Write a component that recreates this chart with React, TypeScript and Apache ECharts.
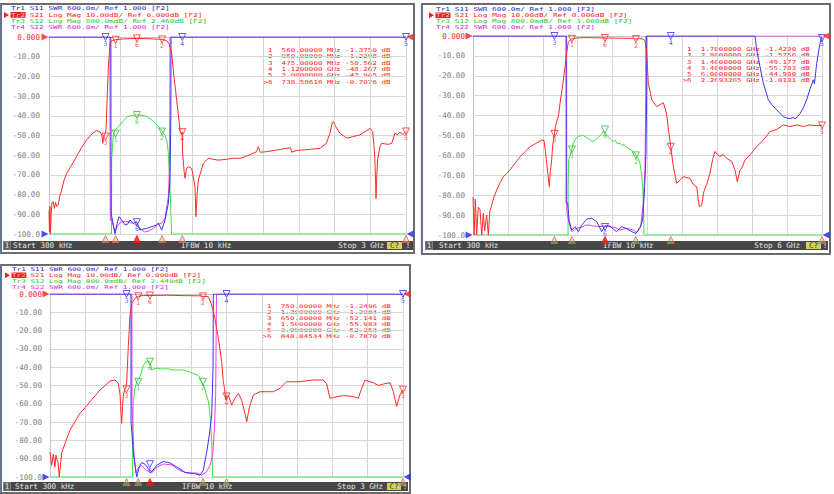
import { useEffect, useRef } from 'react'
import * as echarts from 'echarts'

const yTicks = [0, -10, -20, -30, -40, -50, -60, -70, -80, -90, -100]
const yTickLabels = ['0.000', '-10.00', '-20.00', '-30.00', '-40.00', '-50.00', '-60.00', '-70.00', '-80.00', '-90.00', '-100.0']
const markerNames = ['1', '2', '3', '4', '5', '6']

// all traces in units of the Tr2 scale (dB, 10 dB/div)

// ---- panel 1: 300 kHz .. 3 GHz (GHz)
const p1Header = [
  'Tr1 S11 SWR 600.0m/ Ref 1.000 [F2]',
  'Tr2 S21 Log Mag 10.00dB/ Ref 0.000dB [F2]',
  'Tr3 S12 Log Mag 800.0mdB/ Ref 2.460dB [F2]',
  'Tr4 S22 SWR 600.0m/ Ref 1.000 [F2]',
]
const p1Table = [
  '1  560.00000 MHz -1.3750 dB',
  '2  950.00000 MHz -1.2298 dB',
  '3  475.00000 MHz -50.562 dB',
  '4  1.1200000 GHz -48.267 dB',
  '5  3.0000000 GHz -47.945 dB',
  '>6  738.58616 MHz -0.7076 dB',
]
const p1Status = ['Start 300 kHz', 'IFBW 10 kHz', 'Stop 3 GHz']
const p1MarkFreq = [0.56, 0.95, 0.475, 1.12, 3.0, 0.73858616]
const p1S21Mark = [-1.375, -1.2298, -50.562, -48.267, -47.945, -0.7076]
const p1S11Mark = [-100, -98, 0, 0, 0, -94]
const p1S12Mark = [-49, -48, -100, -100, -100, -39.6]
const p1S21 = [
  [0.0003, -88], [0.004, -99], [0.008, -86], [0.012, -100], [0.018, -90], [0.025, -84], [0.036, -83.6],
  [0.045, -87], [0.055, -84], [0.065, -86], [0.078, -85.3], [0.09, -81], [0.106, -77.7], [0.125, -73],
  [0.148, -69.2], [0.19, -65], [0.232, -60.7], [0.275, -56], [0.316, -52.3], [0.36, -49.2], [0.4, -47.5],
  [0.428, -48], [0.445, -50], [0.452, -54], [0.458, -51.4], [0.465, -50], [0.475, -48.5], [0.479, -47],
  [0.488, -32], [0.499, -15], [0.507, -8.3], [0.513, -3.2], [0.53, -1.8], [0.56, -1.37], [0.62, -1.0],
  [0.7386, -0.71], [0.85, -0.9], [0.95, -1.23], [0.99, -1.9], [1.01, -3.5], [1.031, -8.3], [1.05, -20],
  [1.073, -32], [1.101, -47.2], [1.115, -49.7], [1.12, -48.3], [1.123, -59], [1.135, -68], [1.143, -71.7],
  [1.155, -67], [1.171, -65.8], [1.199, -66.7], [1.215, -72], [1.227, -76], [1.235, -91.2], [1.245, -80],
  [1.255, -72.6], [1.297, -64.1], [1.339, -61.6], [1.42, -62.5], [1.493, -62.1], [1.55, -61.5],
  [1.605, -61.6], [1.68, -60], [1.745, -58.2], [1.759, -55.7], [1.775, -58.5], [1.829, -58.2],
  [1.9, -57.5], [1.997, -56.5], [2.03, -56.3], [2.039, -58.5], [2.08, -57.6], [2.2, -57], [2.277, -56.5],
  [2.33, -54], [2.361, -48.9], [2.38, -43.5], [2.389, -43], [2.41, -45.5], [2.445, -48.9], [2.502, -51.4],
  [2.56, -50.5], [2.613, -49.7], [2.697, -46.4], [2.72, -48], [2.735, -58], [2.743, -70], [2.748, -82],
  [2.755, -70], [2.762, -62], [2.78, -56], [2.795, -54], [2.85, -54.5], [2.88, -54], [2.907, -48.9],
  [2.93, -49.5], [2.949, -48.3], [2.975, -49.5], [3.0, -47.9],
]
const p1S12 = [
  [0, -100], [0.525, -100], [0.527, -62], [0.54, -49.7], [0.555, -47.2], [0.575, -46], [0.597, -44.7],
  [0.625, -42.5], [0.653, -40.7], [0.69, -39.8], [0.737, -39.6], [0.78, -39.8], [0.821, -40.3],
  [0.85, -41.5], [0.877, -42.8], [0.905, -44.5], [0.93, -46.5], [0.947, -47.5], [0.975, -50],
  [0.99, -52.5], [1.003, -59], [1.017, -76], [1.03, -100], [3, -100],
]
const p1S11 = [
  [0, 0], [0.52, 0], [0.521, -60], [0.522, -89.5], [0.527, -89.5], [0.555, -100], [0.569, -95.4],
  [0.588, -91.2], [0.611, -92.9], [0.639, -95.4], [0.66, -95], [0.681, -92.9], [0.709, -94.5],
  [0.737, -93.8], [0.765, -98], [0.79, -97.5], [0.821, -97.2], [0.85, -96.5], [0.877, -96], [0.9, -95.5],
  [0.919, -94.5], [0.947, -98], [0.975, -92.9], [1.003, -84.5], [1.017, -72.6], [1.024, -40], [1.025, 0],
  [3, 0],
]
const p1S22 = [
  [0, 0], [0.512, 0], [0.513, -60], [0.515, -93], [0.527, -93], [0.555, -99], [0.57, -96.5], [0.6, -94],
  [0.64, -93.5], [0.681, -94], [0.72, -95], [0.765, -97], [0.8, -99], [0.84, -98.5], [0.88, -97],
  [0.919, -95], [0.947, -94.5], [0.975, -92], [1.003, -81], [1.012, -67.5], [1.016, -30], [1.017, 0], [3, 0],
]

// ---- panel 2: 300 kHz .. 6 GHz
const p2Header = [
  'Tr1 S11 SWR 600.0m/ Ref 1.000 [F2]',
  'Tr2 S21 Log Mag 10.00dB/ Ref 0.000dB [F2]',
  'Tr3 S12 Log Mag 800.0mdB/ Ref 3.000dB [F2]',
  'Tr4 S22 SWR 600.0m/ Ref 1.000 [F2]',
]
const p2Table = [
  '1  1.7000000 GHz -1.4200 dB',
  '2  2.8000000 GHz -1.5756 dB',
  '3  1.4000000 GHz -49.177 dB',
  '4  3.4000000 GHz -55.703 dB',
  '5  6.0000000 GHz -44.900 dB',
  '>6  2.2693265 GHz -1.0101 dB',
]
const p2Status = ['Start 300 kHz', 'IFBW 10 kHz', 'Stop 6 GHz']
const p2MarkFreq = [1.7, 2.8, 1.4, 3.4, 6.0, 2.2693265]
const p2S21Mark = [-1.42, -1.5756, -49.177, -55.703, -44.9, -1.0101]
const p2S11Mark = [-97, -99, 0, 0, -1, -96]
const p2S12Mark = [-57, -60, -100, -100, -100, -47]
const p2S21 = [
  [0.0003, -81], [0.02, -100], [0.04, -82], [0.063, -100], [0.09, -86], [0.12, -87], [0.15, -100],
  [0.178, -89], [0.2, -98], [0.235, -90], [0.264, -100], [0.29, -88], [0.321, -85], [0.36, -81],
  [0.407, -77.4], [0.46, -74], [0.522, -70.7], [0.58, -69], [0.636, -67.3], [0.72, -64], [0.808, -60.7],
  [0.9, -58], [0.98, -55.6], [1.08, -54], [1.181, -52.3], [1.221, -52.5], [1.245, -58], [1.267, -64],
  [1.29, -70], [1.312, -75.7], [1.33, -68], [1.353, -62.3], [1.37, -55], [1.4, -49.2], [1.42, -45],
  [1.439, -43], [1.47, -40], [1.496, -33.7], [1.54, -25], [1.582, -15.4], [1.611, -8.3], [1.639, -2.9],
  [1.7, -1.42], [1.783, -1.0], [1.95, -0.8], [2.269, -1.01], [2.5, -1.1], [2.756, -1.2], [2.8, -1.58],
  [2.86, -1.3], [2.928, -1.5], [2.965, -3], [2.986, -8.3], [3.014, -23.7], [3.072, -32], [3.158, -35.5],
  [3.215, -34.5], [3.272, -33.5], [3.31, -37], [3.33, -39.7], [3.36, -47], [3.4, -55.7], [3.444, -65.7],
  [3.501, -74], [3.559, -72.5], [3.616, -70.7], [3.731, -71.5], [3.788, -74.7], [3.845, -75.7],
  [3.891, -85.8], [3.931, -85], [3.97, -78], [4.017, -74.7], [4.074, -69], [4.12, -62], [4.16, -58],
  [4.2, -59.5], [4.246, -60.5], [4.3, -59.5], [4.361, -61.5], [4.447, -63], [4.504, -67.3], [4.544, -73.2],
  [4.59, -67.3], [4.62, -66.5], [4.676, -62.3], [4.762, -59.8], [4.877, -55.6], [4.991, -52.3],
  [5.106, -48], [5.22, -47], [5.335, -44.7], [5.45, -45.5], [5.565, -44.7], [5.68, -45.5], [5.794, -44.7],
  [5.9, -45], [6.0, -44.9],
]
const p2S12 = [
  [0, -100], [1.634, -100], [1.636, -75], [1.645, -62], [1.668, -60.3], [1.7, -57], [1.725, -53.9],
  [1.77, -51.5], [1.811, -50.4], [1.897, -50], [1.983, -51.5], [2.03, -52.5], [2.068, -53.1], [2.11, -52],
  [2.154, -51], [2.2, -49.5], [2.24, -48], [2.28, -49.5], [2.326, -50.5], [2.37, -52], [2.412, -53],
  [2.45, -52.5], [2.48, -54], [2.527, -53.9], [2.56, -55], [2.6, -54.5], [2.643, -56], [2.7, -57],
  [2.756, -58], [2.802, -59.8], [2.84, -61.5], [2.871, -64], [2.9, -70], [2.917, -75.7], [2.935, -90],
  [2.94, -100], [6, -100],
]
const p2S11 = [
  [0, 0], [1.6, 0], [1.602, -84], [1.628, -84], [1.651, -92.5], [1.697, -97.5], [1.754, -95.8],
  [1.811, -98.3], [1.868, -95.1], [1.954, -92.1], [2.04, -91.6], [2.126, -93.2], [2.212, -98.3],
  [2.269, -95.5], [2.355, -95.5], [2.41, -97], [2.47, -98.3], [2.556, -95.8], [2.642, -96.8],
  [2.728, -98.3], [2.802, -99.2], [2.871, -96.2], [2.917, -92.5], [2.951, -75.7], [2.974, -58.9],
  [2.985, -30], [2.986, 0], [4.848, 0], [4.877, -7], [4.934, -15.4], [4.991, -23.7], [5.077, -32],
  [5.15, -35], [5.221, -37], [5.28, -39], [5.335, -40.5], [5.39, -41.2], [5.45, -41.5], [5.5, -41],
  [5.536, -41.5], [5.58, -40.5], [5.622, -39], [5.68, -36], [5.737, -32], [5.79, -27], [5.851, -22],
  [5.87, -24], [5.909, -13.7], [5.94, -8], [5.966, -3.7], [5.995, -0.5],
]
const p2S22 = [
  [0, 0], [1.61, 0], [1.612, -88], [1.651, -94], [1.697, -98.3], [1.783, -96.6], [1.868, -96],
  [1.954, -94.9], [2.068, -95.4], [2.183, -95.8], [2.269, -95.4], [2.355, -95.8], [2.441, -96.2],
  [2.527, -97.5], [2.642, -96.6], [2.756, -97.5], [2.814, -98.8], [2.883, -95.8], [2.928, -84],
  [2.957, -67.3], [2.969, -30], [2.97, 0], [6, 0],
]

// ---- panel 3: 300 kHz .. 3 GHz
const p3Header = [
  'Tr1 S11 SWR 600.0m/ Ref 1.000 [F2]',
  'Tr2 S21 Log Mag 10.00dB/ Ref 0.000dB [F2]',
  'Tr3 S12 Log Mag 800.0mdB/ Ref 2.440dB [F2]',
  'Tr4 S22 SWR 600.0m/ Ref 1.000 [F2]',
]
const p3Table = [
  '1  750.00000 MHz -1.2496 dB',
  '2  1.3000000 GHz -1.2984 dB',
  '3  650.00000 MHz -52.141 dB',
  '4  1.5000000 GHz -55.983 dB',
  '5  3.0000000 GHz -52.253 dB',
  '>6  848.84534 MHz -0.7870 dB',
]
const p3Status = ['Start 300 kHz', 'IFBW 10 kHz', 'Stop 3 GHz']
const p3MarkFreq = [0.75, 1.3, 0.65, 1.5, 3.0, 0.84884534]
const p3S21Mark = [-1.2496, -1.2984, -52.141, -55.983, -52.253, -0.787]
const p3S11Mark = [-99, -98, 0, 0, 0, -93]
const p3S12Mark = [-48, -48, -100, -100, -100, -37]
const p3S21 = [
  [0.0003, -86.3], [0.014, -93.6], [0.028, -87.5], [0.042, -94.5], [0.05, -88], [0.057, -90], [0.068, -92],
  [0.079, -100], [0.099, -87], [0.127, -81.7], [0.17, -74.4], [0.21, -70], [0.255, -65.2], [0.3, -62],
  [0.34, -58.9], [0.425, -52.5], [0.51, -47.5], [0.552, -47], [0.581, -48.6], [0.595, -55], [0.601, -61.6],
  [0.609, -70.7], [0.616, -62], [0.623, -55.2], [0.636, -52], [0.646, -51], [0.652, -48], [0.666, -28],
  [0.68, -11.5], [0.694, -5.2], [0.722, -2.4], [0.75, -1.25], [0.793, -0.8], [0.849, -0.79], [0.992, -0.7],
  [1.15, -0.9], [1.275, -1.0], [1.3, -1.3], [1.346, -1.5], [1.374, -6], [1.402, -13.4], [1.431, -24.3],
  [1.459, -37], [1.473, -47.9], [1.479, -50], [1.496, -58.1], [1.5, -56], [1.516, -55.4], [1.53, -58],
  [1.544, -60.7], [1.572, -57], [1.601, -54.3], [1.629, -58.1], [1.657, -65.2], [1.672, -69.8],
  [1.694, -62], [1.728, -55.2], [1.785, -53.4], [1.85, -53.4], [1.898, -53.4], [1.955, -51.5],
  [2.011, -47.9], [2.06, -48], [2.125, -47.9], [2.238, -47], [2.323, -47], [2.351, -49], [2.38, -57],
  [2.408, -56.5], [2.493, -55.5], [2.578, -56], [2.62, -57], [2.649, -51.5], [2.677, -47], [2.748, -48.5],
  [2.79, -50], [2.833, -49.2], [2.89, -48.5], [2.918, -53.4], [2.946, -61.4], [2.975, -55], [3.0, -52.3],
]
const p3S12 = [
  [0, -100], [0.702, -100], [0.703, -75], [0.708, -58.9], [0.722, -51.5], [0.737, -48], [0.765, -45.2],
  [0.793, -39], [0.822, -36.5], [0.849, -37], [0.865, -41.5], [0.878, -41], [0.91, -40.5], [0.95, -41],
  [0.992, -40.8], [1.05, -41.5], [1.133, -41.5], [1.2, -43], [1.261, -44.5], [1.289, -48], [1.317, -52],
  [1.346, -58.9], [1.36, -66], [1.374, -80], [1.382, -100], [3, -100],
]
const p3S11 = [
  [0, 0], [0.688, 0], [0.689, -70], [0.708, -86.3], [0.722, -93.6], [0.737, -100], [0.759, -94.5],
  [0.779, -92.1], [0.807, -93], [0.836, -95.4], [0.864, -97.2], [0.907, -93.6], [0.963, -91.5],
  [1.02, -92.3], [1.077, -94.5], [1.148, -97.5], [1.218, -98], [1.275, -99], [1.303, -96.3],
  [1.332, -86.3], [1.354, -77.1], [1.374, -66.2], [1.386, -40], [1.388, 0], [3, 0],
]
const p3S22 = [
  [0, 0], [0.696, 0], [0.697, -60], [0.714, -88], [0.731, -97.8], [0.751, -94.7], [0.779, -93.8],
  [0.822, -96.5], [0.864, -97.8], [0.907, -94.7], [0.963, -92.9], [1.034, -93.4], [1.105, -96.5],
  [1.176, -98], [1.247, -97.8], [1.289, -98.9], [1.326, -97.5], [1.36, -93.8], [1.383, -88],
  [1.397, -73.6], [1.408, -55], [1.415, 0], [3, 0],
]

const MONO = '"DejaVu Sans Mono", "Liberation Mono", monospace'
const FS = 7.6
const EM = 0.602 // advance of the mono font, in em

const C_S11 = '#3434f0'
const C_S21 = '#ff2a2a'
const C_S12 = '#3fe03f'
const C_S22 = '#f03cf0'
const HEAD_COLORS = ['#2626d0', '#ff2020', '#28c828', '#e020e0']

const panels = [
  {
    header: p1Header, table: p1Table, status: p1Status,
    markFreq: p1MarkFreq, s21Mark: p1S21Mark, s11Mark: p1S11Mark, s12Mark: p1S12Mark,
    s21: p1S21, s12: p1S12, s11: p1S11, s22: p1S22,
    frame: [1, 4, 413, 249], grid: [49, 37, 357, 197],
    headX: 11, headY: 8.6, headStep: 6.3, headFs: 5.5, headCw: 4.68,
    tableX: 268, tableY: 50.5, tableStep: 6.3, tableFs: 5.5, tableCw: 4.55,
    bar: [3, 241, 410, 9], startX: 13, ifbwX: 181, stopR: 384, cBox: [387, 242, 15, 7], bangX: 408,
    xMax: 3, xInt: 0.3, labelMargin: 9,
  },
  {
    header: p2Header, table: p2Table, status: p2Status,
    markFreq: p2MarkFreq, s21Mark: p2S21Mark, s11Mark: p2S11Mark, s12Mark: p2S12Mark,
    s21: p2S21, s12: p2S12, s11: p2S11, s22: p2S22,
    frame: [422, 4, 408, 250], grid: [473, 36, 349, 199],
    headX: 436, headY: 9.2, headStep: 6.1, headFs: 5.4, headCw: 4.68,
    tableX: 687, tableY: 49.5, tableStep: 6.2, tableFs: 5.4, tableCw: 4.56,
    bar: [425, 241, 403, 9], startX: 439, ifbwX: 603, stopR: 800, cBox: [806, 242, 15, 7], bangX: 825,
    xMax: 6, xInt: 0.6, labelMargin: 8,
  },
  {
    header: p3Header, table: p3Table, status: p3Status,
    markFreq: p3MarkFreq, s21Mark: p3S21Mark, s11Mark: p3S11Mark, s12Mark: p3S12Mark,
    s21: p3S21, s12: p3S12, s11: p3S11, s22: p3S22,
    frame: [1, 265, 409, 228], grid: [50, 294, 353, 183],
    headX: 12, headY: 269.3, headStep: 5.9, headFs: 5.2, headCw: 4.62,
    tableX: 267, tableY: 306.5, tableStep: 5.9, tableFs: 5.2, tableCw: 4.6,
    bar: [3, 482, 405, 9], startX: 15, ifbwX: 182, stopR: 383, cBox: [387, 483, 14, 7], bangX: 405,
    xMax: 3, xInt: 0.3, labelMargin: 8,
  },
]

// monospace text squeezed in height, stretched to the screen's cell width
function monoText(x: number, y: number, text: string, fill: string, fs: number, cw: number) {
  return {
    type: 'text', x, y, scaleX: cw / (fs * EM), silent: true,
    style: { text, fill, font: `${fs}px ${MONO}`, align: 'left', verticalAlign: 'middle' },
  }
}

function plainText(x: number, y: number, text: string, fill: string, align: string) {
  return {
    type: 'text', x, y, silent: true,
    style: { text, fill, font: `${FS}px ${MONO}`, align, verticalAlign: 'middle' },
  }
}

function panelGraphics(p: any) {
  const els: any[] = []
  const [fx, fy, fw, fh] = p.frame
  els.push({ type: 'rect', shape: { x: fx, y: fy, width: fw, height: fh }, style: { fill: 'none', stroke: '#6c6c6c', lineWidth: 2 }, silent: true })
  els.push({ type: 'line', shape: { x1: fx - 0.5, y1: fy, x2: fx - 0.5, y2: fy + fh }, style: { stroke: '#5f7fc0', lineWidth: 1.5, lineDash: [1, 1] }, silent: true })
  // trace headers
  p.header.forEach((t: string, i: number) => {
    const y = p.headY + i * p.headStep
    if (i === 1) {
      els.push({ type: 'rect', shape: { x: p.headX - 0.5, y: y - 2.8, width: p.headCw * 3 + 1, height: 5.6 }, style: { fill: '#f02020' }, silent: true })
      els.push({ type: 'polygon', shape: { points: [[p.headX - 7, y - 3], [p.headX - 2, y], [p.headX - 7, y + 3]] }, style: { fill: '#f02020' }, silent: true })
      els.push(monoText(p.headX, y, t.slice(0, 3), '#ffc0c0', p.headFs, p.headCw))
      els.push(monoText(p.headX + 3 * p.headCw, y, t.slice(3), HEAD_COLORS[i], p.headFs, p.headCw))
    } else {
      els.push(monoText(p.headX, y, t, HEAD_COLORS[i], p.headFs, p.headCw))
    }
  })
  // marker readout
  p.table.forEach((t: string, i: number) => {
    els.push(monoText(p.tableX - (i === 5 ? p.tableCw : 0), p.tableY + i * p.tableStep, t, '#ff2020', p.tableFs, p.tableCw))
  })
  // status bar
  const [bx, by, bw, bh] = p.bar
  const cy = by + bh / 2
  els.push({ type: 'rect', shape: { x: bx, y: by, width: bw, height: bh }, style: { fill: '#474747' }, silent: true })
  els.push({ type: 'rect', shape: { x: bx + 0.5, y: by + 0.5, width: 7, height: bh - 1 }, style: { fill: '#5c5c5c', stroke: '#9a9a9a', lineWidth: 0.6 }, silent: true })
  els.push(plainText(bx + 4, cy, '1', '#e8e8e8', 'center'))
  els.push(plainText(p.startX, cy, p.status[0], '#e4e4e4', 'left'))
  els.push(plainText(p.ifbwX, cy, p.status[1], '#e4e4e4', 'left'))
  els.push(plainText(p.stopR, cy, p.status[2], '#e4e4e4', 'right'))
  const [cx0, cy0, cw0, ch0] = p.cBox
  els.push({ type: 'rect', shape: { x: cx0, y: cy0, width: cw0, height: ch0 }, style: { fill: '#d6cf5a' }, silent: true })
  els.push(plainText(cx0 + cw0 / 2, cy, 'C?', '#303030', 'center'))
  els.push(plainText(p.bangX, cy, '!', '#e4e4e4', 'center'))
  return els
}

function lineSeries(data: number[][], color: string, gi: number, z: number) {
  return {
    type: 'line', data, xAxisIndex: gi, yAxisIndex: gi, symbol: 'none', silent: true, z,
    lineStyle: { color, width: 1 }, itemStyle: { color },
  }
}

function markerSeries(freq: number[], vals: number[], color: string, gi: number, show: number[]) {
  return {
    type: 'scatter', xAxisIndex: gi, yAxisIndex: gi, clip: false, silent: true, z: 6,
    symbol: 'triangle', symbolRotate: 180, symbolSize: 7,
    itemStyle: { color: 'rgba(255,255,255,0)', borderColor: color, borderWidth: 1 },
    label: {
      show: true, position: 'bottom', distance: -1, color, fontSize: 6.5, fontFamily: MONO,
      formatter: (q: any) => q.data.name,
    },
    data: show.map((i) => ({ value: [freq[i], vals[i]], name: markerNames[i] })),
  }
}

function App() {
  const chartRef = useRef<HTMLDivElement>(null)

  useEffect(() => {
    if (!chartRef.current) return
    const chart = echarts.init(chartRef.current, undefined, { renderer: 'svg' })

    const series: any[] = []
    panels.forEach((p, gi) => {
      series.push(lineSeries(p.s12, C_S12, gi, 2))
      series.push(lineSeries(p.s22, C_S22, gi, 3))
      series.push(lineSeries(p.s11, C_S11, gi, 4))
      series.push(lineSeries(p.s21, C_S21, gi, 5))
      series.push(markerSeries(p.markFreq, p.s21Mark, C_S21, gi, [0, 1, 2, 3, 4, 5]))
      series.push(markerSeries(p.markFreq, p.s11Mark, C_S11, gi, [2, 3, 4, 5]))
      series.push(markerSeries(p.markFreq, p.s12Mark, '#2fc02f', gi, [0, 1, 5]))
      // marker position indicators below the grid
      series.push({
        type: 'scatter', xAxisIndex: gi, yAxisIndex: gi, clip: false, silent: true, z: 7,
        symbol: 'triangle', symbolSize: 7, symbolOffset: [0, 5],
        data: p.markFreq.map((f, i) => ({
          value: [f, -100],
          itemStyle: i === 5
            ? { color: '#ff1010', borderColor: '#ff1010' }
            : { color: 'rgba(120,220,120,0.6)', borderColor: '#ff5a5a', borderWidth: 1 },
        })),
      })
      // reference level arrows
      series.push({
        type: 'scatter', xAxisIndex: gi, yAxisIndex: gi, clip: false, silent: true, z: 8,
        symbol: 'triangle', symbolSize: 7,
        data: [
          { value: [0, 0], symbolRotate: -90, symbolOffset: [-4, 0], itemStyle: { color: '#ff1a1a' } },
          { value: [p.xMax, 0], symbolRotate: 90, symbolOffset: [4, 0], itemStyle: { color: '#ff1a1a' } },
          { value: [0, -100], symbolRotate: -90, symbolOffset: [-4, 0], itemStyle: { color: '#2020f0' } },
          { value: [p.xMax, -100], symbolRotate: 90, symbolOffset: [4, 0], itemStyle: { color: '#2020f0' } },
        ],
      })
    })

    chart.setOption({
      animation: false,
      backgroundColor: '#ffffff',
      grid: panels.map((p) => ({
        left: p.grid[0], top: p.grid[1], width: p.grid[2], height: p.grid[3],
        show: true, backgroundColor: '#ffffff', borderWidth: 0,
      })),
      xAxis: panels.map((p, gi) => ({
        gridIndex: gi, type: 'value', min: 0, max: p.xMax, interval: p.xInt,
        axisLabel: { show: false }, axisTick: { show: false },
        axisLine: { show: true, lineStyle: { color: '#c4c4c4', width: 1 } },
        splitLine: { show: true, lineStyle: { color: '#d6d6d6', width: 1 } },
      })),
      yAxis: panels.map((p, gi) => ({
        gridIndex: gi, type: 'value', min: -100, max: 0, interval: 10,
        axisTick: { show: false },
        axisLine: { show: true, lineStyle: { color: '#c4c4c4', width: 1 } },
        splitLine: { show: true, lineStyle: { color: '#d6d6d6', width: 1 } },
        axisLabel: {
          margin: p.labelMargin, fontFamily: MONO, fontSize: FS,
          color: (v: any) => (Number(v) === 0 ? '#ff2020' : '#7c7c7c'),
          formatter: (v: number) => yTickLabels[yTicks.indexOf(Math.round(v))] ?? String(v),
        },
      })),
      graphic: panels.flatMap((p) => panelGraphics(p)),
      series,
    })

    return () => {
      chart.dispose()
    }
  }, [])

  return (
    <div
      ref={chartRef}
      style={{ position: 'absolute', left: 0, top: 0, width: 834, height: 494, background: '#fff' }}
    />
  )
}

export default App
